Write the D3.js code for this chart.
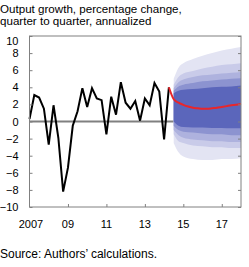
<!DOCTYPE html>
<html>
<head>
<meta charset="utf-8">
<script src="https://cdn.jsdelivr.net/npm/d3@7"></script>
<style>
  body { margin: 0; background: #fff; }
  text { font-family: "Liberation Sans", Arial, sans-serif; }
</style>
</head>
<body>
<div id="chart"></div>
<script>
// Historical output growth, quarterly, 2007Q1 - 2014Q2
var histStart = 2007;
var histValues = [0.3, 3.1, 2.8, 1.5, -2.7, 1.9, -1.9, -8.2, -5.4, -0.5,
                  1.2, 3.9, 1.7, 3.9, 2.7, 2.5, -1.5, 2.9, 0.8, 4.6,
                  2.2, 1.5, 2.4, 0.1, 2.7, 1.9, 4.5, 3.5, -2.1, 4.0];

// Median forecast, quarterly, 2014Q2 - 2018Q1
var fcStart = 2014.25;
var fcValues = [4.0, 2.6, 2.2, 1.95, 1.75, 1.6, 1.55, 1.5, 1.5, 1.55,
                1.6, 1.7, 1.8, 1.9, 1.95, 2.05];

// Fan bands (outer to inner)
var fanDates = [2014.5, 2014.75, 2015, 2015.5, 2016, 2016.5, 2017, 2017.5, 2018];
var band1Hi = [5.0, 6.3, 6.8, 7.3, 7.7, 8.0, 8.3, 8.5, 8.7];
var band1Lo = [-2.5, -3.6, -4.1, -4.4, -4.5, -4.5, -4.4, -4.4, -4.3];
var band2Hi = [4.3, 5.2, 5.6, 5.9, 6.2, 6.4, 6.6, 6.7, 6.8];
var band2Lo = [-1.5, -2.3, -2.5, -2.8, -2.9, -3.0, -3.0, -3.1, -3.1];
var band3Hi = [3.9, 4.6, 4.9, 5.2, 5.4, 5.5, 5.6, 5.7, 5.8];
var band3Lo = [-1.0, -1.6, -1.9, -2.1, -2.2, -2.3, -2.3, -2.4, -2.4];
var band4Hi = [3.6, 4.1, 4.3, 4.5, 4.7, 4.8, 4.9, 5.0, 5.05];
var band4Lo = [-0.5, -1.0, -1.2, -1.3, -1.4, -1.5, -1.5, -1.6, -1.6];
var band5Hi = [3.3, 3.6, 3.7, 3.8, 3.9, 4.0, 4.05, 4.1, 4.2];
var band5Lo = [0.0, -0.5, -0.65, -0.7, -0.7, -0.75, -0.75, -0.8, -0.8];

var yTicks = [-10, -8, -6, -4, -2, 0, 2, 4, 6, 8, 10];
var xTicks = [2007, 2009, 2011, 2013, 2015, 2017];
var xTickLabels = ["2007", "09", "11", "13", "15", "17"];

var width = 249, height = 267;
var plotL = 29.5, plotR = 241, plotT = 36, plotB = 207;

var svg = d3.select('#chart')
    .append('svg')
    .attr('width', width)
    .attr('height', height);

var x = d3.scaleLinear().domain([2007, 2018]).range([plotL, plotR]);
var y = d3.scaleLinear().domain([-10, 10]).range([plotB, plotT]);

// Title
svg.append('text').attr('x', 0).attr('y', 12.5)
    .style('font-size', '11.6px').style('fill', '#000')
    .text('Output growth, percentage change,');
svg.append('text').attr('x', 0).attr('y', 24.5)
    .style('font-size', '11.6px').style('fill', '#000')
    .text('quarter to quarter, annualized');

// Zero line
svg.append('line')
    .attr('x1', plotL).attr('x2', plotR)
    .attr('y1', y(0)).attr('y2', y(0))
    .style('stroke', '#808080')
    .style('stroke-width', 2);

// Fan chart
var bands = [
    { hi: band1Hi, lo: band1Lo, color: '#e3e4f3' },
    { hi: band2Hi, lo: band2Lo, color: '#c9cbe9' },
    { hi: band3Hi, lo: band3Lo, color: '#aeb2de' },
    { hi: band4Hi, lo: band4Lo, color: '#8c93d0' },
    { hi: band5Hi, lo: band5Lo, color: '#5b66bb' }
];

var area = d3.area()
    .x(function(d) { return x(d.date); })
    .y0(function(d) { return y(d.lo); })
    .y1(function(d) { return y(d.hi); })
    .curve(d3.curveMonotoneX);

bands.forEach(function(b) {
    var pts = fanDates.map(function(t, i) { return { date: t, hi: b.hi[i], lo: b.lo[i] }; });
    svg.append('path')
        .attr('d', area(pts))
        .style('fill', b.color);
});

// Lines
var line = d3.line()
    .x(function(d) { return x(d.date); })
    .y(function(d) { return y(d.value); });

var hist = histValues.map(function(v, i) { return { date: histStart + i / 4, value: v }; });
var fc = fcValues.map(function(v, i) { return { date: fcStart + i / 4, value: v }; });

svg.append('path')
    .attr('d', line(hist))
    .style('fill', 'none')
    .style('stroke', '#000')
    .style('stroke-width', 2)
    .style('stroke-linejoin', 'miter');

svg.append('path')
    .attr('d', line.curve(d3.curveMonotoneX)(fc))
    .style('fill', 'none')
    .style('stroke', '#e8262b')
    .style('stroke-width', 2);

// Frame
svg.append('rect')
    .attr('x', plotL).attr('y', plotT)
    .attr('width', plotR - plotL).attr('height', plotB - plotT)
    .style('fill', 'none')
    .style('stroke', '#808080')
    .style('stroke-width', 1);

// Y axis ticks, inside on both sides
var yAxisL = d3.axisRight(y).tickValues(yTicks).tickSize(3).tickFormat('');
var yAxisR = d3.axisLeft(y).tickValues(yTicks).tickSize(3).tickFormat('');
svg.append('g').attr('transform', 'translate(' + plotL + ',0)').call(yAxisL);
svg.append('g').attr('transform', 'translate(' + plotR + ',0)').call(yAxisR);

// X axis ticks, inside
var xAxis = d3.axisTop(x).tickValues(xTicks.slice(1)).tickSize(3).tickFormat('');
svg.append('g').attr('transform', 'translate(0,' + plotB + ')').call(xAxis);

svg.selectAll('.domain').remove();
svg.selectAll('.tick line').style('stroke', '#808080');

// Y labels
svg.selectAll('.ylab')
    .data(yTicks)
    .enter().append('text')
    .attr('class', 'ylab')
    .attr('x', 18.5)
    .attr('y', function(d) { return d === 10 ? y(d) + 9 : y(d) + 4; })
    .attr('text-anchor', 'end')
    .style('font-size', '11px')
    .text(function(d) { return d < 0 ? '\u2212' + Math.abs(d) : d; });

// X labels
svg.selectAll('.xlab')
    .data(xTicks)
    .enter().append('text')
    .attr('class', 'xlab')
    .attr('x', function(d) { return x(d) + (d === 2007 ? 1.5 : 0); })
    .attr('y', 228)
    .attr('text-anchor', 'middle')
    .style('font-size', '11px')
    .text(function(d, i) { return xTickLabels[i]; });

// Source
svg.append('text').attr('x', 0).attr('y', 258)
    .style('font-size', '12px')
    .text('Source: Authors\u2019 calculations.');
</script>
</body>
</html>
